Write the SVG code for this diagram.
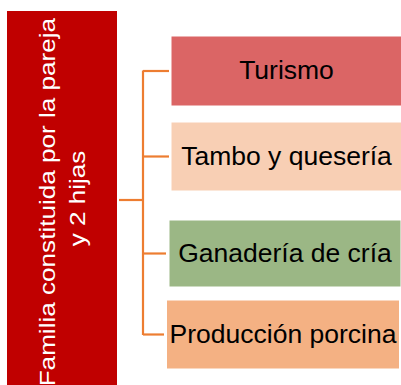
<svg xmlns="http://www.w3.org/2000/svg" width="401" height="385" viewBox="0 0 401 385">
  <style>
    .lbl { font-family: "Liberation Sans", Arial, sans-serif; font-size: 26.5px; fill: #000; text-anchor: middle; }
    .main { font-family: "Liberation Sans", Arial, sans-serif; font-size: 22.5px; fill: #fff; text-anchor: middle; }
    .box { stroke: #ffffff; stroke-width: 1; }
    .conn { fill: none; stroke: #ED7D31; stroke-width: 2.2; }
  </style>
  <rect width="401" height="385" fill="#ffffff"/>
  <g id="root">
    <rect x="7" y="11" width="110" height="380" fill="#C00000"/>
    <text class="main" transform="translate(0,198.5) rotate(-90) scale(1.16,1)">
      <tspan x="0" y="55">Familia constituida por la pareja</tspan>
      <tspan x="0" y="85">y 2 hijas</tspan>
    </text>
  </g>
  <g id="connectors">
    <path class="conn" d="M119,200 H143.5"/>
    <path class="conn" d="M143,70.5 V335"/>
    <path class="conn" d="M143,71 H169"/>
    <path class="conn" d="M143,156.5 H169"/>
    <path class="conn" d="M143,253.5 H166"/>
    <path class="conn" d="M143,334.5 H164"/>
  </g>
  <g id="turismo">
    <rect class="box" x="171" y="36" width="232" height="70" fill="#DB6565"/>
    <text class="lbl" x="286.5" y="79">Turismo</text>
  </g>
  <g id="tambo">
    <rect class="box" x="171" y="122" width="232" height="69" fill="#F8CFB4"/>
    <text class="lbl" x="286.5" y="165">Tambo y quesería</text>
  </g>
  <g id="ganaderia">
    <rect class="box" x="169" y="220" width="232" height="67" fill="#9BB785"/>
    <text class="lbl" x="285" y="262">Ganadería de cría</text>
  </g>
  <g id="produccion">
    <rect class="box" x="166.5" y="300" width="233" height="69" fill="#F4B183"/>
    <text class="lbl" x="283" y="343">Producción porcina</text>
  </g>
</svg>
